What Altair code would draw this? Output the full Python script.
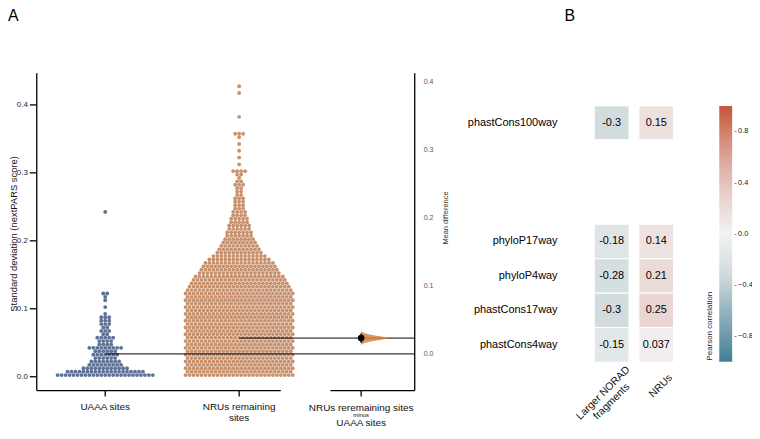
import altair as alt
import pandas as pd

# ---------------- data ----------------
group_names = ["UAAA sites", "NRUs remaining sites"]
group_colors = ["#5e7196", "#c8916d"]
bin_width = 0.005  # swarm row k sits at value (k + 0.5) * bin_width

uaaa_row_counts = [25, 20, 12, 9, 8, 6, 7, 6, 9, 4, 4, 5, 2, 3, 2, 3, 3, 3, 1, 0,
                   1, 0, 1, 1, 2, 0, 0, 0, 0, 0, 0, 0, 0, 0, 0, 0, 0, 0, 0, 0,
                   0, 0, 0, 0, 0, 0, 0, 0, 1]

nru_row_counts = [28, 27, 28, 27, 28, 27, 28, 27, 28, 27, 28, 27,
                  28, 27, 28, 27, 28, 27, 28, 27, 28, 27, 28, 27,
                  28, 27, 26, 25, 24, 23, 21, 20, 19, 18, 16, 14, 12, 11, 10, 9,
                  8, 7, 7, 6, 6, 5, 5, 4, 4, 3, 3, 3, 3, 2, 2, 2, 3, 2, 1, 2,
                  4, 0, 1, 0, 1, 0, 1, 0, 1, 0, 1, 3, 0, 0, 0, 0, 1, 0, 0, 0,
                  0, 0, 0, 1, 0, 1]

uaaa_mean = 0.0336
nru_mean = 0.0569
diff_ci = [0.0165, 0.0300]
violin_diff = [0.0130, 0.0160, 0.0185, 0.0210, 0.0233, 0.0255, 0.0280, 0.0305, 0.0335]
violin_density = [0.0, 0.12, 0.38, 0.72, 1.0, 0.72, 0.38, 0.12, 0.0]
contrast_label = ["NRUs reremaining sites", "minus", "UAAA sites"]
left_ticks = [0.0, 0.1, 0.2, 0.3, 0.4]
right_ticks = [0.0, 0.1, 0.2, 0.3, 0.4]

row_names = ["phastCons100way", "phyloP17way", "phyloP4way", "phastCons17way", "phastCons4way"]
row_block = ["top", "bottom", "bottom", "bottom", "bottom"]
col_names = ["Larger NORAD fragments", "NRUs"]
col_labels = ["Larger NORAD\nfragments", "NRUs"]
r_larger = [-0.3, -0.18, -0.28, -0.3, -0.15]
r_nrus = [0.15, 0.14, 0.21, 0.25, 0.037]
legend_ticks = [-0.8, -0.4, 0.0, 0.4, 0.8]
palette = ["#3f7f93", "#88abb8", "#cfdadd", "#f2f2f2", "#e6cdc7", "#d79a8b", "#c3553a"]

# ---------------- tables ----------------
pts = []
for g, counts in enumerate([uaaa_row_counts, nru_row_counts]):
    for k, c in enumerate(counts):
        for _ in range(c):
            pts.append({"group": group_names[g], "gidx": g,
                        "value": round((k + 0.5) * bin_width, 5)})
pts_df = pd.DataFrame(pts)
means_df = pd.DataFrame({"gidx": [0, 1], "mean": [uaaa_mean, nru_mean]})
glab_df = pd.DataFrame({"gidx": [0, 1], "label": ["UAAA sites", "NRUs remaining\nsites"]})
diff_mean = nru_mean - uaaa_mean
pt_df = pd.DataFrame({"c": [0.0], "d": [diff_mean], "lo": [diff_ci[0]], "hi": [diff_ci[1]]})
vio_df = pd.DataFrame({"d": violin_diff, "dens": violin_density})
lt_df = pd.DataFrame({"v": left_ticks, "lab": [f"{t:.1f}" for t in left_ticks]})
rt_df = pd.DataFrame({"v": right_ticks, "lab": [f"{t:.1f}" for t in right_ticks]})
one_df = pd.DataFrame({"k": [0]})

heat_rows = []
for i, rn in enumerate(row_names):
    for cn, vals in zip(col_names, [r_larger, r_nrus]):
        heat_rows.append({"row": rn, "col": cn, "r": vals[i],
                          "txt": format(vals[i], ".2g"), "block": row_block[i]})
heat_df = pd.DataFrame(heat_rows)
rowlab_df = pd.DataFrame({"row": row_names, "block": row_block})
collab_df = pd.DataFrame({"col": col_names, "lab": col_labels})

# ---------------- layout (view pixels) ----------------
W, H = 750, 421
FONT = "Liberation Sans"
px_per_unit = 135.0
g0_px = 98.0
main_lo, main_hi = 29.0, 275.0
con_c, con_lo, con_hi = 356.0, 325.0, 410.0
y_top, y_bot = 64.0, 384.0
y_dom = [-0.0204, 0.4467]
dot_step = 4.0 / px_per_unit
AX = dict(color="black", strokeWidth=1.3)

x_main = alt.Scale(domain=[(main_lo - g0_px) / px_per_unit, (main_hi - g0_px) / px_per_unit],
                   range=[main_lo, main_hi], nice=False, zero=False)
y_left = alt.Scale(domain=y_dom, range=[y_bot, y_top], nice=False, zero=False)
x_con = alt.Scale(domain=[(con_lo - con_c) / px_per_unit, (con_hi - con_c) / px_per_unit],
                  range=[con_lo, con_hi], nice=False, zero=False)
y_right = alt.Scale(domain=[y_dom[0] - uaaa_mean, y_dom[1] - uaaa_mean],
                    range=[y_bot, y_top], nice=False, zero=False)


def seg(x1, x2, y1, y2):
    return alt.Chart(one_df).mark_rule(**AX).encode(
        x=alt.value(x1), x2=alt.value(x2), y=alt.value(y1), y2=alt.value(y2))


# ---- panel A: swarm + left axis + group axis ----
swarm_layers = []
for g in range(2):
    swarm_layers.append(
        alt.Chart(pts_df)
        .transform_filter(alt.datum.gidx == g)
        .transform_window(rank="row_number()", groupby=["value"])
        .transform_joinaggregate(n="count()", groupby=["value"])
        .transform_calculate(xpos=f"datum.gidx + (datum.rank - (datum.n + 1) / 2) * {dot_step}")
        .mark_circle(size=15, opacity=1, color=group_colors[g])
        .encode(x=alt.X("xpos:Q", scale=x_main, axis=None),
                y=alt.Y("value:Q", scale=y_left, axis=None))
    )

mean_rules = alt.Chart(means_df).mark_rule(color="black", strokeWidth=1).encode(
    x=alt.X("gidx:Q", scale=x_main, axis=None),
    x2=alt.value(con_hi),
    y=alt.Y("mean:Q", scale=y_left, axis=None),
)
gticks = alt.Chart(means_df).mark_rule(**AX).encode(
    x=alt.X("gidx:Q", scale=x_main, axis=None), y=alt.value(y_bot), y2=alt.value(y_bot + 6))
glabels = alt.Chart(glab_df).mark_text(font=FONT, fontSize=10, lineBreak="\n", lineHeight=11,
                                       baseline="alphabetic", color="#111").encode(
    x=alt.X("gidx:Q", scale=x_main, axis=None),
    y=alt.value(404),
    text="label:N",
)
lticks = alt.Chart(lt_df).mark_rule(**AX).encode(
    y=alt.Y("v:Q", scale=y_left, axis=None), x=alt.value(main_lo - 7), x2=alt.value(main_lo))
llabels = alt.Chart(lt_df).mark_text(font=FONT, fontSize=8, align="right", baseline="middle",
                                     color="#222").encode(
    y=alt.Y("v:Q", scale=y_left, axis=None), x=alt.value(main_lo - 9), text="lab:N")
ltitle = alt.Chart(pd.DataFrame({"t": ["Standard deviation (nextPARS score)"]})).mark_text(
    font=FONT, fontSize=9.5, angle=270, align="center", baseline="middle", color="#111").encode(
    text="t:N", x=alt.value(6), y=alt.value(226))
panelA = alt.layer(*swarm_layers, mean_rules, gticks, glabels, lticks, llabels, ltitle,
                   seg(main_lo, main_lo, y_top, y_bot), seg(main_lo, main_hi, y_bot, y_bot))

# ---- contrast part: violin, estimate, right axis ----
violin = alt.Chart(vio_df).transform_calculate(x0="0", x1="datum.dens * 0.21").mark_area(
    orient="horizontal", color="#d8843f", opacity=0.85).encode(
    y=alt.Y("d:Q", scale=y_right, axis=None),
    x=alt.X("x1:Q", scale=x_con, axis=None),
    x2="x0:Q",
)
ci_rule = alt.Chart(pt_df).mark_rule(color="black", strokeWidth=1.5).encode(
    x=alt.X("c:Q", scale=x_con, axis=None),
    y=alt.Y("lo:Q", scale=y_right, axis=None),
    y2="hi:Q",
)
pt = alt.Chart(pt_df).mark_circle(size=45, color="black", opacity=1).encode(
    x=alt.X("c:Q", scale=x_con, axis=None),
    y=alt.Y("d:Q", scale=y_right, axis=None),
)
cticks = alt.Chart(pt_df).mark_rule(**AX).encode(
    x=alt.X("c:Q", scale=x_con, axis=None), y=alt.value(y_bot), y2=alt.value(y_bot + 6))
rlabels = alt.Chart(rt_df).mark_text(font=FONT, fontSize=7, align="left", baseline="middle",
                                     color="#555").encode(
    y=alt.Y("v:Q", scale=y_right, axis=None), x=alt.value(con_hi + 9), text="lab:N")
rtitle = alt.Chart(pd.DataFrame({"t": ["Mean difference"]})).mark_text(
    font=FONT, fontSize=7.5, angle=270, align="center", baseline="middle", color="#333").encode(
    text="t:N", x=alt.value(con_hi + 32), y=alt.value(210))
con_text = []
for line, fs, yy in zip(contrast_label, [10, 6, 10], [405, 411, 420]):
    con_text.append(
        alt.Chart(pd.DataFrame({"c": [0.0], "t": [line]})).mark_text(
            font=FONT, fontSize=fs, baseline="alphabetic", color="#111").encode(
            x=alt.X("c:Q", scale=x_con, axis=None), y=alt.value(yy), text="t:N")
    )
panelC = alt.layer(violin, ci_rule, pt, cticks, rlabels, rtitle, *con_text,
                   seg(con_hi, con_hi, y_top, y_bot), seg(con_lo, con_hi, y_bot, y_bot))

# ---------------- heatmap ----------------
x_heat = alt.Scale(type="band", domain=col_names, range=[586, 676],
                   paddingInner=0.222, paddingOuter=0.111)
color_scale = alt.Scale(domain=[-1, -2 / 3, -1 / 3, 0, 1 / 3, 2 / 3, 1], range=palette)
leg = alt.Legend(orient="none", legendX=717, legendY=97, direction="vertical",
                 gradientLength=258, gradientThickness=13, title=None, values=legend_ticks,
                 format=".1f", labelExpr="'-\u2009' + datum.label", labelFontSize=7.5,
                 labelOffset=2, gradientStrokeWidth=0, labelColor="#222", labelFont=FONT)


def heat_block(block, yrange):
    rows = [r for r, b in zip(row_names, row_block) if b == block]
    ys = alt.Scale(type="band", domain=rows, range=yrange, paddingInner=0, paddingOuter=0)
    base = alt.Chart(heat_df).transform_filter(alt.datum.block == block)
    rect = base.mark_rect(stroke="white", strokeWidth=1).encode(
        x=alt.X("col:N", scale=x_heat, axis=None),
        y=alt.Y("row:N", scale=ys, axis=None),
        color=alt.Color("r:Q", scale=color_scale, legend=leg),
    )
    txt = base.mark_text(font=FONT, fontSize=11, color="black").encode(
        x=alt.X("col:N", scale=x_heat, axis=None),
        y=alt.Y("row:N", scale=ys, axis=None),
        text="txt:N",
    )
    rlab = alt.Chart(rowlab_df).transform_filter(alt.datum.block == block).mark_text(
        font=FONT, fontSize=11, align="right", baseline="middle", color="black").encode(
        y=alt.Y("row:N", scale=ys, axis=None), x=alt.value(554), text="row:N")
    return [rect, txt, rlab]


heat_top = alt.layer(*heat_block("top", [97, 131]))
collab_layers = []
for cn, dx, yy in zip(col_names, [-12, 6.5], [378, 384]):
    collab_layers.append(
        alt.Chart(collab_df).transform_filter(alt.datum.col == cn).mark_text(
            font=FONT, fontSize=10.5, angle=315, align="center", baseline="middle",
            lineBreak="\n", lineHeight=12, dx=dx, color="#111").encode(
            x=alt.X("col:N", scale=x_heat, axis=None), y=alt.value(yy), text="lab:N")
    )
heat_bottom = alt.layer(*heat_block("bottom", [216.3, 355.3]), *collab_layers)

letterA = alt.Chart(pd.DataFrame({"t": ["A"]})).mark_text(
    font=FONT, fontSize=16, align="left", baseline="alphabetic", color="black").encode(
    text="t:N", x=alt.value(0), y=alt.value(11))
letterB = alt.Chart(pd.DataFrame({"t": ["B"]})).mark_text(
    font=FONT, fontSize=16, align="left", baseline="alphabetic", color="black").encode(
    text="t:N", x=alt.value(561), y=alt.value(11))
cbar_title = alt.Chart(pd.DataFrame({"t": ["Pearson correlation"]})).mark_text(
    font=FONT, fontSize=8, angle=270, align="center", baseline="middle", color="#222").encode(
    text="t:N", x=alt.value(708), y=alt.value(319))

chart = alt.layer(panelA, panelC, heat_top, heat_bottom, letterA, letterB, cbar_title).resolve_scale(
    x="independent", y="independent"
).properties(
    width=W, height=H, padding=0, autosize=alt.AutoSizeParams(type="none")
).configure(font=FONT).configure_view(stroke=None)

chart.save("out.html", embed_options={"renderer": "svg", "actions": False})
